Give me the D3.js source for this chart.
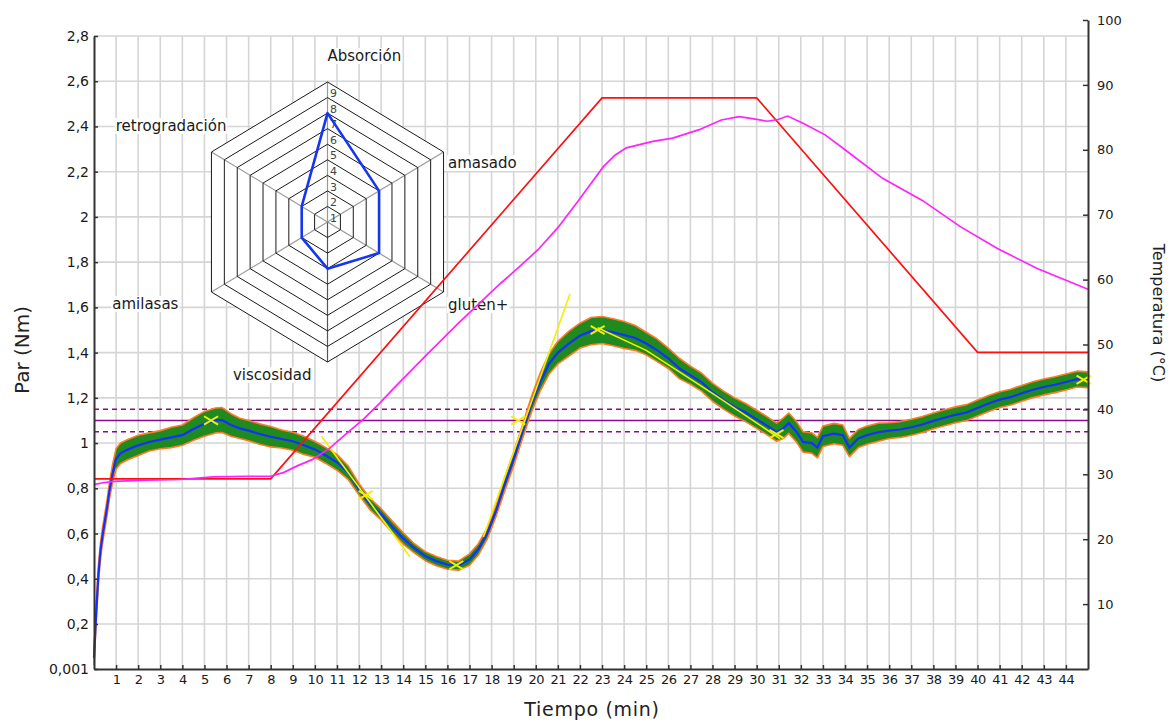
<!DOCTYPE html>
<html>
<head>
<meta charset="utf-8">
<script src="https://cdn.jsdelivr.net/npm/d3@7"></script>
<style>
  html, body { margin: 0; padding: 0; background: #fff; }
  svg { display: block; }
  text { font-family: "DejaVu Sans", Verdana, sans-serif; fill: #111; }
</style>
</head>
<body>
<svg id="chart" width="1171" height="723"></svg>
<script>
// ---- Torque record (Nm) against time (min) ----
const timeMin = [0, 0.1, 0.2, 0.3, 0.4, 0.5, 0.6, 0.7, 0.85, 1.0, 1.2, 1.5, 2.0, 2.5, 3.0, 3.5, 4.0, 4.5, 5.0, 5.5, 5.8,
  6.2, 6.6, 7.0, 7.5, 8.0, 8.5, 9.0, 9.5, 10.0, 10.5, 11.0, 11.5, 12.0, 12.5, 13.0, 13.5, 14.0, 14.5, 15.0, 15.5,
  16.0, 16.5, 17.0, 17.4, 17.8, 18.2, 18.6, 19.0, 19.4, 19.8, 20.2, 20.6, 21.0, 21.5, 22.0, 22.5, 23.0, 23.5, 24.0,
  24.5, 25.0, 25.5, 26.0, 26.5, 27.0, 27.5, 28.0, 28.5, 29.0, 29.5, 30.0, 30.5, 30.9, 31.2, 31.45, 31.8, 32.1, 32.5,
  32.75, 33.0, 33.5, 33.9, 34.2, 34.6, 35.0, 35.5, 36.0, 36.5, 37.0, 37.5, 38.0, 38.5, 39.0, 39.5, 40.0, 40.5, 41.0,
  41.5, 42.0, 42.5, 43.0, 43.5, 44.0, 44.5, 45.0];
const torqueNm = [0.05, 0.25, 0.42, 0.53, 0.60, 0.66, 0.72, 0.79, 0.87, 0.93, 0.955, 0.97, 0.99, 1.005, 1.015, 1.025,
  1.035, 1.062, 1.085, 1.1, 1.102, 1.08, 1.065, 1.055, 1.04, 1.028, 1.018, 1.008, 0.99, 0.972, 0.945, 0.915, 0.87,
  0.795, 0.73, 0.685, 0.63, 0.578, 0.535, 0.5, 0.478, 0.462, 0.458, 0.485, 0.53, 0.6, 0.7, 0.82, 0.93, 1.05, 1.17,
  1.27, 1.35, 1.40, 1.44, 1.475, 1.495, 1.5, 1.49, 1.478, 1.465, 1.44, 1.41, 1.375, 1.33, 1.3, 1.27, 1.225, 1.19,
  1.16, 1.135, 1.105, 1.075, 1.048, 1.065, 1.088, 1.05, 1.005, 1.0, 0.98, 1.03, 1.042, 1.035, 0.98, 1.02, 1.035,
  1.048, 1.055, 1.06, 1.07, 1.082, 1.098, 1.112, 1.125, 1.135, 1.155, 1.175, 1.192, 1.203, 1.22, 1.236, 1.248,
  1.258, 1.27, 1.283, 1.28];
// half-width of the noise band around the torque record (Nm)
const torqueSpread = [0.03, 0.04, 0.04, 0.035, 0.035, 0.035, 0.035, 0.035, 0.04, 0.045, 0.045, 0.045, 0.045, 0.04,
  0.04, 0.045, 0.045, 0.05, 0.055, 0.055, 0.055, 0.05, 0.045, 0.045, 0.045, 0.045, 0.04, 0.04, 0.04, 0.035, 0.035,
  0.035, 0.03, 0.025, 0.025, 0.025, 0.025, 0.025, 0.02, 0.02, 0.02, 0.02, 0.02, 0.025, 0.025, 0.025, 0.025, 0.03,
  0.03, 0.03, 0.035, 0.04, 0.045, 0.05, 0.055, 0.055, 0.06, 0.06, 0.06, 0.06, 0.055, 0.05, 0.05, 0.045, 0.045, 0.04,
  0.04, 0.04, 0.04, 0.04, 0.04, 0.04, 0.04, 0.04, 0.045, 0.045, 0.045, 0.045, 0.045, 0.045, 0.045, 0.045, 0.045,
  0.04, 0.04, 0.04, 0.04, 0.035, 0.035, 0.035, 0.035, 0.035, 0.035, 0.035, 0.035, 0.035, 0.035, 0.035, 0.035,
  0.035, 0.035, 0.035, 0.035, 0.035, 0.035, 0.035];

// ---- Temperatures (°C) ----
const targetTime = [0, 8, 23, 30, 40, 45];
const targetTemp = [29.3, 29.3, 88, 88, 48.8, 48.8];
const doughTime = [0, 0.4, 0.9, 2.4, 3.9, 4.7, 5.4, 6.9, 8.0, 8.6, 9.2, 9.9, 10.7, 11.4, 12.2, 12.95, 13.5, 15.0,
  16.5, 18.4, 19.2, 20.1, 21.0, 21.85, 22.5, 23.06, 23.6, 24.1, 25.3, 26.2, 27.4, 28.4, 29.2, 29.8, 30.5, 31.0,
  31.4, 32.1, 33.1, 34.0, 35.7, 37.5, 39.2, 40.9, 42.7, 45.0];
const doughTemp = [28.4, 28.7, 28.9, 29.1, 29.2, 29.4, 29.6, 29.7, 29.7, 30.3, 31.3, 32.3, 34.1, 36.2, 38.5, 41.0,
  43.0, 48.2, 53.3, 59.4, 61.8, 64.6, 68.0, 71.8, 74.8, 77.4, 79.2, 80.3, 81.3, 81.8, 83.1, 84.6, 85.1, 84.8, 84.4,
  84.7, 85.2, 84.1, 82.3, 80.0, 75.6, 72.2, 68.2, 64.8, 61.7, 58.5];

// ---- Slope fits and characteristic points ----
const fitSlope1 = [[10.3, 1.03], [14.3, 0.497]];
const fitSlope2 = [[17.63, 0.585], [21.55, 1.66]];
const fitSlope3 = [[22.8, 1.51], [25.0, 1.41], [28.0, 1.22], [31.05, 1.02]];
const keyTime = [5.3, 12.3, 16.4, 19.2, 22.8, 30.9, 44.8];
const keyTorque = [1.1, 0.77, 0.46, 1.1, 1.5, 1.04, 1.28];

// ---- Hydration target and tolerance (Nm) ----
const targetTorque = 1.1;
const toleranceTorque = [1.05, 1.15];

// ---- Profile (radar) ----
const profileAxes = ["Absorción", "amasado", "gluten+", "viscosidad", "amilasas", "retrogradación"];
const profileValues = [7, 4, 4, 3, 2, 2];
const profileLevels = [1, 2, 3, 4, 5, 6, 7, 8, 9];

// ---- Axis ticks ----
const minuteTicks = [1, 2, 3, 4, 5, 6, 7, 8, 9, 10, 11, 12, 13, 14, 15, 16, 17, 18, 19, 20, 21, 22, 23, 24, 25, 26,
  27, 28, 29, 30, 31, 32, 33, 34, 35, 36, 37, 38, 39, 40, 41, 42, 43, 44];
const torqueTicks = [0.001, 0.2, 0.4, 0.6, 0.8, 1, 1.2, 1.4, 1.6, 1.8, 2, 2.2, 2.4, 2.6, 2.8];
const torqueTickLabels = ["0,001", "0,2", "0,4", "0,6", "0,8", "1", "1,2", "1,4", "1,6", "1,8", "2", "2,2", "2,4", "2,6", "2,8"];
const tempTicks = [10, 20, 30, 40, 50, 60, 70, 80, 90, 100];

// ---- Scales ----
const svg = d3.select("#chart");
const x = d3.scaleLinear().domain([0, 45]).range([94, 1088]);
const yT = d3.scaleLinear().domain([0.001, 2.8]).range([669, 36]);
const yC = d3.scaleLinear().domain([0, 100]).range([669, 20]);

// ---- Grid ----
const grid = svg.append("g").attr("stroke", "#d5d5d5").attr("stroke-width", 1.6);
grid.selectAll("line.gv").data(minuteTicks).join("line").attr("class", "gv")
  .attr("x1", d => x(d)).attr("x2", d => x(d)).attr("y1", yT(2.8)).attr("y2", yT(0.001));
grid.selectAll("line.gh").data(torqueTicks.slice(1)).join("line").attr("class", "gh")
  .attr("x1", x(0)).attr("x2", x(45)).attr("y1", d => yT(d)).attr("y2", d => yT(d));

// ---- Profile radar ----
const rc = { cx: 327.5, cy: 222, rx: 134, ry: 140 };
const nLev = profileLevels.length;
function radarPt(i, r) {
  const a = i * Math.PI / 3;
  return [rc.cx + rc.rx * (r / nLev) * Math.sin(a), rc.cy - rc.ry * (r / nLev) * Math.cos(a)];
}
const radar = svg.append("g");
const ringPath = r => "M" + d3.range(6).map(i => radarPt(i, r).join(",")).join("L") + "Z";
radar.append("path").attr("d", ringPath(nLev)).attr("fill", "#fff").attr("stroke", "none");
radar.selectAll("line.spoke").data(profileAxes).join("line").attr("class", "spoke")
  .attr("x1", rc.cx).attr("y1", rc.cy)
  .attr("x2", (d, i) => radarPt(i, nLev)[0]).attr("y2", (d, i) => radarPt(i, nLev)[1])
  .attr("stroke", (d, i) => i === 3 ? "#555" : "#999").attr("stroke-width", 1.2);
radar.selectAll("path.ring").data(profileLevels).join("path").attr("class", "ring")
  .attr("d", d => ringPath(d)).attr("fill", "none").attr("stroke", "#1a1a1a").attr("stroke-width", 1);
radar.selectAll("text.lev").data(profileLevels).join("text").attr("class", "lev")
  .attr("x", rc.cx + 6).attr("y", d => rc.cy - (d - 0.72) * rc.ry / nLev + 4)
  .attr("text-anchor", "middle").attr("font-size", 11).style("fill", "#444").text(d => d);
radar.append("path")
  .attr("d", "M" + profileValues.map((v, i) => radarPt(i, v).join(",")).join("L") + "Z")
  .attr("fill", "none").attr("stroke", "#1436f0").attr("stroke-width", 2.6).attr("stroke-linejoin", "round");

// axis names around the radar, each with a white backing
const nameLayout = [
  { dx: 0, dy: -21, anchor: "start" },
  { dx: 4.5, dy: 16, anchor: "start" },
  { dx: 4.5, dy: 18, anchor: "start" },
  { dx: -16, dy: 18, anchor: "end" },
  { dx: -33, dy: 17, anchor: "end" },
  { dx: 15, dy: -21, anchor: "end" }
];
profileAxes.forEach((name, i) => {
  const p = radarPt(i, nLev);
  const g = radar.append("g");
  const t = g.append("text").attr("x", p[0] + nameLayout[i].dx).attr("y", p[1] + nameLayout[i].dy)
    .attr("text-anchor", nameLayout[i].anchor).attr("font-size", 15).style("fill", "#1a1a1a").text(name);
  const b = t.node().getBBox();
  g.insert("rect", "text").attr("x", b.x - 1).attr("y", b.y + 1).attr("width", b.width + 2).attr("height", b.height - 2)
    .attr("fill", "#fff");
});

// ---- Target and tolerance lines ----
const limits = svg.append("g").attr("stroke", "#8a0a8a").attr("stroke-width", 1.5);
limits.append("line").attr("x1", x(0)).attr("x2", x(45)).attr("y1", yT(targetTorque)).attr("y2", yT(targetTorque));
limits.selectAll("line.tol").data(toleranceTorque).join("line").attr("class", "tol")
  .attr("x1", x(0)).attr("x2", x(45)).attr("y1", d => yT(d)).attr("y2", d => yT(d))
  .attr("stroke-dasharray", "5,4");

// ---- Torque band and mean ----
const idx = d3.range(timeMin.length);
const band = d3.area().x(i => x(timeMin[i]))
  .y0(i => yT(torqueNm[i] - torqueSpread[i])).y1(i => yT(torqueNm[i] + torqueSpread[i]));
svg.append("path").datum(idx).attr("d", band)
  .attr("fill", "#1f8a1f").attr("stroke", "#ff7a24").attr("stroke-width", 1.6).attr("stroke-linejoin", "round");
svg.append("path").datum(idx).attr("d", d3.line().x(i => x(timeMin[i])).y(i => yT(torqueNm[i])))
  .attr("fill", "none").attr("stroke", "#1230ff").attr("stroke-width", 2.2);

// ---- Slope fits and characteristic points ----
const fitLine = d3.line().x(d => x(d[0])).y(d => yT(d[1]));
[fitSlope1, fitSlope2, fitSlope3].forEach(seg => {
  svg.append("path").attr("d", fitLine(seg)).attr("fill", "none").attr("stroke", "#f2f000").attr("stroke-width", 1.6);
});
const marks = svg.append("g").attr("stroke", "#f2f000").attr("stroke-width", 2);
keyTime.forEach((t, i) => {
  const px = x(t), py = yT(keyTorque[i]), s = 7;
  marks.append("line").attr("x1", px - s).attr("y1", py - s * 0.6).attr("x2", px + s).attr("y2", py + s * 0.6);
  marks.append("line").attr("x1", px - s).attr("y1", py + s * 0.6).attr("x2", px + s).attr("y2", py - s * 0.6);
});

// ---- Temperature curves ----
svg.append("path").datum(d3.range(targetTime.length))
  .attr("d", d3.line().x(i => x(targetTime[i])).y(i => yC(targetTemp[i])))
  .attr("fill", "none").attr("stroke", "#ff1010").attr("stroke-width", 1.7);
svg.append("path").datum(d3.range(doughTime.length))
  .attr("d", d3.line().x(i => x(doughTime[i])).y(i => yC(doughTemp[i])))
  .attr("fill", "none").attr("stroke", "#ff22ff").attr("stroke-width", 1.7);

// ---- Axes ----
function styleAxis(g) {
  g.select(".domain").attr("stroke", "#333").attr("stroke-width", 2);
  g.selectAll(".tick line").attr("stroke", "#333").attr("stroke-width", 1.5);
  g.selectAll(".tick text").style("fill", "#1a1a1a").attr("font-family", "DejaVu Sans, Verdana, sans-serif");
}
svg.append("g").attr("transform", `translate(${x(0)},0)`)
  .call(d3.axisLeft(yT).tickValues(torqueTicks).tickFormat((d, i) => torqueTickLabels[i])
    .tickSizeInner(-4).tickSizeOuter(0).tickPadding(5))
  .call(g => { styleAxis(g); g.selectAll(".tick text").attr("font-size", 14); });
svg.append("g").attr("transform", `translate(0,${yT(0.001)})`)
  .call(d3.axisBottom(x).tickValues(minuteTicks).tickFormat(d => d)
    .tickSizeInner(-4).tickSizeOuter(0).tickPadding(6))
  .call(g => { styleAxis(g); g.selectAll(".tick text").attr("font-size", 13).attr("letter-spacing", -0.4); });
svg.append("g").attr("transform", `translate(${x(45)},0)`)
  .call(d3.axisRight(yC).tickValues(tempTicks).tickFormat(d => d)
    .tickSizeInner(-5).tickSizeOuter(0).tickPadding(9))
  .call(g => { styleAxis(g); g.selectAll(".tick text").attr("font-size", 13); });

// ---- Axis titles ----
svg.append("text").attr("transform", "translate(29,350) rotate(-90)").attr("text-anchor", "middle")
  .attr("font-size", 20).style("fill", "#222").text("Par (Nm)");
svg.append("text").attr("x", 592).attr("y", 716).attr("text-anchor", "middle")
  .attr("font-size", 19).attr("letter-spacing", 0.7).style("fill", "#222").text("Tiempo (min)");
svg.append("text").attr("transform", "translate(1153,313) rotate(90)").attr("text-anchor", "middle")
  .attr("font-size", 16).style("fill", "#222").text("Temperatura (°C)");
</script>
</body>
</html>
